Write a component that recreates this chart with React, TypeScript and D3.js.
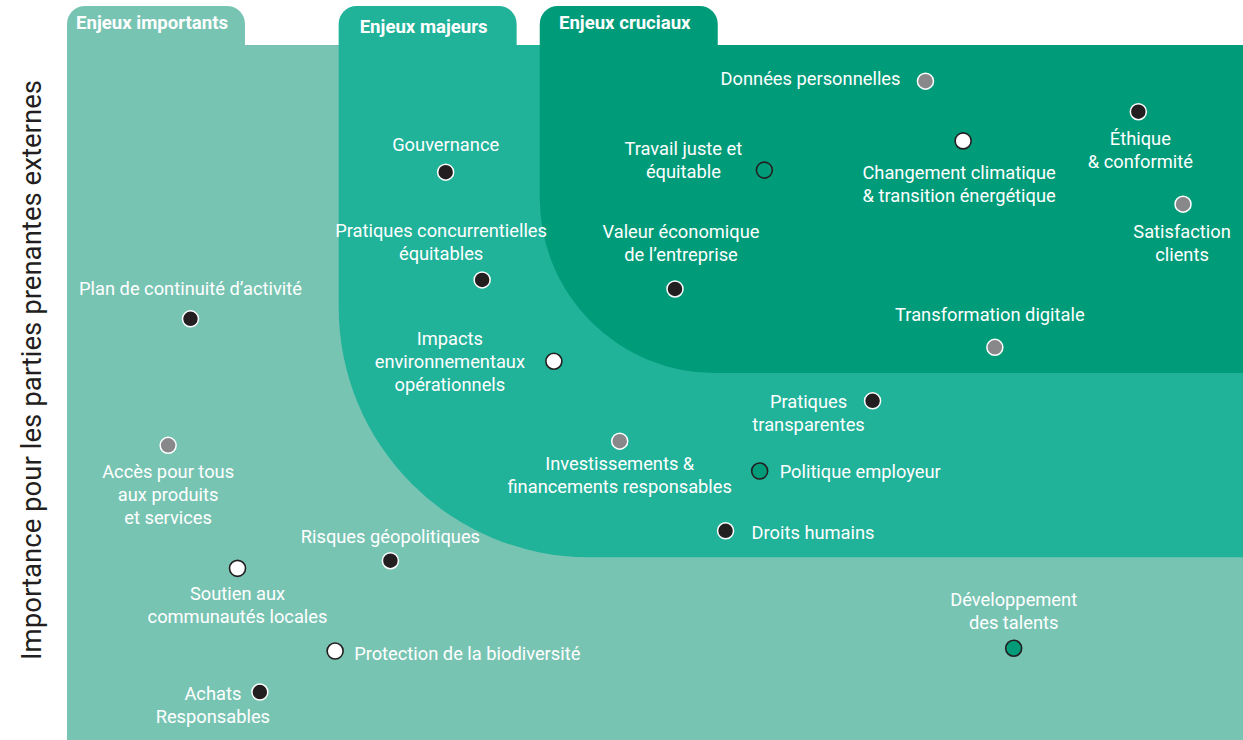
import * as d3 from "d3";

// issue names, one line per entry
const issueLines: string[][] = [
  ["Données personnelles"],
  ["Éthique", "& conformité"],
  ["Changement climatique", "& transition énergétique"],
  ["Satisfaction", "clients"],
  ["Travail juste et", "équitable"],
  ["Gouvernance"],
  ["Pratiques concurrentielles", "équitables"],
  ["Valeur économique", "de l’entreprise"],
  ["Plan de continuité d’activité"],
  ["Transformation digitale"],
  ["Impacts", "environnementaux", "opérationnels"],
  ["Pratiques", "transparentes"],
  ["Accès pour tous", "aux produits", "et services"],
  ["Investissements &", "financements responsables"],
  ["Politique employeur"],
  ["Droits humains"],
  ["Risques géopolitiques"],
  ["Soutien aux", "communautés locales"],
  ["Développement", "des talents"],
  ["Protection de la biodiversité"],
  ["Achats", "Responsables"],
];

// x: importance for the company, y: importance for external stakeholders (0-100)
const issueX = [73.0, 91.1, 76.2, 94.9, 59.3, 32.2, 35.3, 51.7, 10.5, 78.9, 41.4, 68.5, 8.6, 47.0, 58.9, 56.0, 27.5, 14.5, 80.5, 22.8, 16.4];
const issueY = [94.8, 90.4, 86.2, 77.1, 82.0, 81.7, 66.2, 64.9, 60.6, 56.5, 54.5, 48.8, 42.4, 43.0, 38.7, 30.1, 25.8, 24.7, 13.2, 12.8, 6.9];
// marker kind
const issueKind = ["grey", "black", "white", "grey", "green", "black", "black", "black", "black", "grey", "white", "black", "grey", "grey", "green", "black", "black", "white", "green", "white", "black"];

// zones: name, x where the zone starts, y where it starts (0-100)
const zoneNames = ["Enjeux importants", "Enjeux majeurs", "Enjeux cruciaux"];
const zoneX = [0, 23.1, 40.2];
const zoneY = [0, 26.3, 52.8];

const yAxisTitle = "Importance pour les parties prenantes externes";

// label placement relative to the marker: anchor, dx, dy of first line
const labelLayout: [string, number, number][] = [
  ["end", -25, -3],
  ["middle", 2, 26],
  ["middle", -4, 31],
  ["middle", -1, 27],
  ["middle", -81, -22],
  ["middle", 0, -28],
  ["middle", -41, -50],
  ["middle", 6, -58],
  ["middle", 0, -31],
  ["middle", -5, -33],
  ["middle", -104, -23],
  ["middle", -64, 0],
  ["middle", 0, 26],
  ["middle", 0, 22],
  ["start", 20, 0],
  ["start", 26, 1],
  ["middle", 0, -25],
  ["middle", 0, 25],
  ["middle", 0, -49],
  ["start", 19, 2],
  ["middle", -47, 1],
];

const W = 1243;
const H = 740;
const bodyTop = 45;
const tabTop = 6;
const tabW = 178;
const tabR = 18;
const zoneColors = ["#78c4b3", "#21b29a", "#009c7a"];
const cornerR = [0, 250, 175];
const FONT = "Roboto, 'Noto Sans', sans-serif";

const x = d3.scaleLinear().domain([0, 100]).range([67, W]);
const y = d3.scaleLinear().domain([0, 100]).range([H, bodyTop]);

const markerStyle: Record<string, { fill: string; stroke: string; sw: number }> = {
  black: { fill: "#231f20", stroke: "#ffffff", sw: 1.5 },
  grey: { fill: "#88888a", stroke: "#ffffff", sw: 1.5 },
  white: { fill: "#ffffff", stroke: "#231f20", sw: 1.6 },
  green: { fill: "#009c7a", stroke: "#231f20", sw: 1.6 },
};

function tabPath(x0: number) {
  const p = d3.path();
  p.moveTo(x0, bodyTop + 1);
  p.lineTo(x0, tabTop + tabR);
  p.arcTo(x0, tabTop, x0 + tabR, tabTop, tabR);
  p.lineTo(x0 + tabW - tabR, tabTop);
  p.arcTo(x0 + tabW, tabTop, x0 + tabW, tabTop + tabR, tabR);
  p.lineTo(x0 + tabW, bodyTop + 1);
  p.closePath();
  return p.toString();
}

function bodyPath(i: number) {
  const x0 = x(zoneX[i]);
  const yb = y(zoneY[i]);
  const r = cornerR[i];
  const p = d3.path();
  p.moveTo(x0, bodyTop);
  p.lineTo(W, bodyTop);
  p.lineTo(W, yb);
  if (r > 0) {
    p.lineTo(x0 + r, yb);
    p.arcTo(x0, yb, x0, yb - r, r);
  } else {
    p.lineTo(x0, yb);
  }
  p.closePath();
  return p.toString();
}

export default function App() {
  const lineH = 23;
  return (
    <svg
      width={W}
      height={H}
      style={{ position: "absolute", left: 0, top: 0, background: "#ffffff" }}
      fontFamily={FONT}
    >
      {zoneNames.map((name, i) => (
        <g key={name}>
          <path d={tabPath(x(zoneX[i]))} fill={zoneColors[i]} />
          <path d={bodyPath(i)} fill={zoneColors[i]} />
        </g>
      ))}
      {zoneNames.map((name, i) => (
        <text
          key={"t" + name}
          x={i === 0 ? x(zoneX[i]) + 9 : x(zoneX[i]) + tabW / 2 - 4}
          y={i === 1 ? 27 : 23}
          textAnchor={i === 0 ? "start" : "middle"}
          dominantBaseline="central"
          fill="#ffffff"
          fontWeight={700}
          fontSize={18.6}
        >
          {name}
        </text>
      ))}
      <text
        transform={`translate(31,${370}) rotate(-90)`}
        textAnchor="middle"
        dominantBaseline="central"
        fill="#231f20"
        fontSize={27.6}
      >
        {yAxisTitle}
      </text>
      {issueLines.map((lines, i) => {
        const cx = x(issueX[i]);
        const cy = y(issueY[i]);
        const [anchor, dx, dy] = labelLayout[i];
        const st = markerStyle[issueKind[i]];
        return (
          <g key={i}>
            <circle cx={cx} cy={cy} r={8} fill={st.fill} stroke={st.stroke} strokeWidth={st.sw} />
            <text
              textAnchor={anchor as any}
              fill="#ffffff"
              fontSize={18.3}
              dominantBaseline="central"
            >
              {lines.map((l, j) => (
                <tspan key={j} x={cx + dx} y={cy + dy + j * lineH}>
                  {l}
                </tspan>
              ))}
            </text>
          </g>
        );
      })}
    </svg>
  );
}
